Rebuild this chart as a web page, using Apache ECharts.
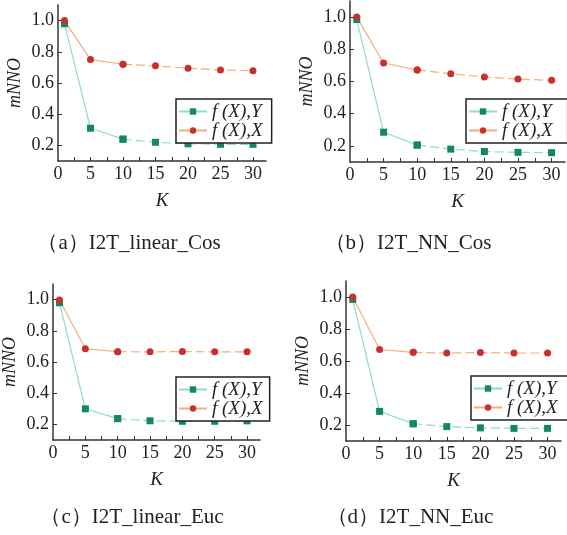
<!DOCTYPE html>
<html>
<head>
<meta charset="utf-8">
<script src="https://cdn.jsdelivr.net/npm/echarts@6/dist/echarts.min.js"></script>
<style>
html,body{margin:0;padding:0;background:#fff;}
#c{width:567px;height:535px;}
</style>
</head>
<body>
<div id="c"></div>
<script>
const K = [1, 5, 10, 15, 20, 25, 30];
const xTickLabels = [0, 5, 10, 15, 20, 25, 30];
const yTickLabels = [0.2, 0.4, 0.6, 0.8, 1.0];
const nameY = 'f (X),Y';
const nameX = 'f (X),X';

const aY = [0.98, 0.31, 0.24, 0.22, 0.21, 0.207, 0.207];
const aX = [1.0, 0.75, 0.72, 0.71, 0.695, 0.683, 0.678];
const bY = [0.985, 0.285, 0.205, 0.18, 0.165, 0.16, 0.158];
const bX = [1.0, 0.715, 0.672, 0.648, 0.628, 0.615, 0.607];
const cY = [0.98, 0.30, 0.237, 0.223, 0.22, 0.22, 0.223];
const cX = [0.997, 0.685, 0.666, 0.665, 0.667, 0.665, 0.665];
const dY = [0.985, 0.285, 0.208, 0.19, 0.182, 0.179, 0.179];
const dX = [1.0, 0.672, 0.654, 0.65, 0.653, 0.65, 0.65];

const captions = ['（a）I2T_linear_Cos', '（b）I2T_NN_Cos', '（c）I2T_linear_Euc', '（d）I2T_NN_Euc'];

const panels = [
  {Y: aY, X: aX, grid: {left: 58, top: 5, width: 208, height: 156}, legend: {left: 176, top: 99, padR: 9}, cap: [129, 243]},
  {Y: bY, X: bX, grid: {left: 350, top: 1, width: 215, height: 161}, legend: {left: 466, top: 99, padR: 15}, cap: [408, 243]},
  {Y: cY, X: cX, grid: {left: 53, top: 284, width: 207, height: 156}, legend: {left: 176, top: 377, padR: 7}, cap: [132, 517]},
  {Y: dY, X: dX, grid: {left: 346, top: 281, width: 215, height: 160}, legend: {left: 471, top: 376, padR: 12}, cap: [410, 517]}
];

const SERIF = 'Liberation Serif';
const greenLine = '#8fdccb', greenMark = '#138a55';
const redLine = '#f6ad7e', redMark = '#c8302c';
const axisCol = '#333';

const grids = [], xAxes = [], yAxes = [], series = [], legends = [], graphics = [];

function pairs(vals, from, to) {
  const out = [];
  for (let i = from; i <= to; i++) out.push([K[i], vals[i]]);
  return out;
}

panels.forEach((p, i) => {
  grids.push(p.grid);
  xAxes.push({
    gridIndex: i, type: 'value', min: 0, max: 32,
    name: 'K', nameLocation: 'middle', nameGap: 30,
    nameTextStyle: {fontFamily: SERIF, fontStyle: 'italic', fontSize: 19, color: '#222'},
    axisLine: {show: true, lineStyle: {color: axisCol, width: 1.5}},
    axisTick: {show: true, inside: true, length: 4, lineStyle: {color: axisCol}, customValues: [2.5, 5, 7.5, 10, 12.5, 15, 17.5, 20, 22.5, 25, 27.5, 30]},
    axisLabel: {fontFamily: SERIF, fontSize: 18, color: '#222', margin: 4, customValues: xTickLabels},
    splitLine: {show: false}
  });
  yAxes.push({
    gridIndex: i, type: 'value', min: 0.1, max: 1.1,
    name: 'mNNO', nameLocation: 'middle', nameGap: 34,
    nameTextStyle: {fontFamily: SERIF, fontStyle: 'italic', fontSize: 18, color: '#222'},
    axisLine: {show: true, lineStyle: {color: axisCol, width: 1.5}},
    axisTick: {show: true, inside: true, length: 4, lineStyle: {color: axisCol}, customValues: yTickLabels},
    axisLabel: {fontFamily: SERIF, fontSize: 18, color: '#222', margin: 4, customValues: yTickLabels,
      formatter: v => Number(v).toFixed(1)},
    splitLine: {show: false}
  });
  const common = {xAxisIndex: i, yAxisIndex: i, type: 'line', symbolSize: 7, animation: false, z: 3};
  series.push(Object.assign({}, common, {name: nameY, data: pairs(p.Y, 0, 2), symbol: 'rect',
    itemStyle: {color: greenMark}, lineStyle: {color: greenLine, width: 1.2}}));
  series.push(Object.assign({}, common, {name: nameY + ' ', data: pairs(p.Y, 2, 6), symbol: 'rect',
    itemStyle: {color: greenMark}, lineStyle: {color: greenLine, width: 1.2, type: [9, 4]}}));
  series.push(Object.assign({}, common, {name: nameX, data: pairs(p.X, 0, 2), symbol: 'circle',
    itemStyle: {color: redMark}, lineStyle: {color: redLine, width: 1.2}}));
  series.push(Object.assign({}, common, {name: nameX + ' ', data: pairs(p.X, 2, 6), symbol: 'circle',
    itemStyle: {color: redMark}, lineStyle: {color: redLine, width: 1.2, type: [9, 4]}}));
  legends.push({
    data: [nameY, nameX], left: p.legend.left, top: p.legend.top, orient: 'vertical',
    itemWidth: 28, itemHeight: 8, itemGap: 0, selectedMode: false,
    padding: [3, p.legend.padR, 3, 2], borderColor: '#222', borderWidth: 1.5, backgroundColor: '#fff',
    textStyle: {fontFamily: SERIF, fontStyle: 'italic', fontSize: 19, lineHeight: 18, color: '#222'}
  });
  graphics.push({
    type: 'text', x: p.cap[0], y: p.cap[1],
    style: {text: captions[i], fontFamily: SERIF, fontSize: 21, fill: '#222', textAlign: 'center', textVerticalAlign: 'middle'}
  });
});

const chart = echarts.init(document.getElementById('c'));
chart.setOption({
  animation: false,
  backgroundColor: '#fff',
  textStyle: {fontFamily: SERIF},
  grid: grids, xAxis: xAxes, yAxis: yAxes, series: series, legend: legends, graphic: graphics
});
</script>
</body>
</html>
